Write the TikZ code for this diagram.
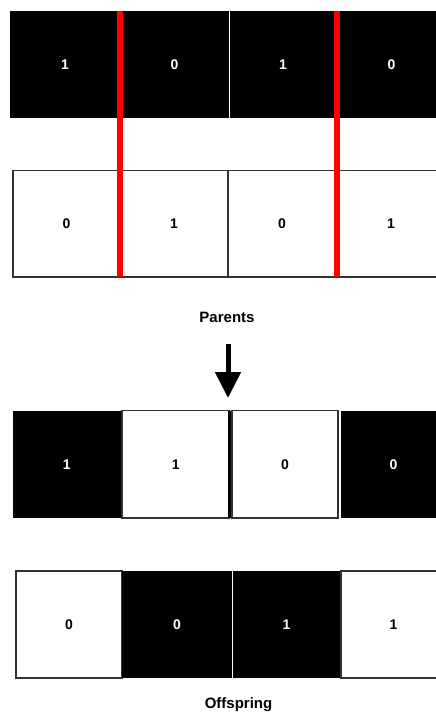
\documentclass[tikz,border=0pt]{standalone}
\usepackage{fontspec}
\setmainfont{Liberation Sans}
\usetikzlibrary{arrows.meta}
\begin{document}
\begin{tikzpicture}[x=1pt,y=-1pt,
  cell/.style={rectangle, anchor=north west, inner sep=0pt, outer sep=0pt,
    font=\bfseries\fontsize{14}{16}\selectfont},
  blk/.style={cell, fill=black, text=white},
  wht/.style={cell, fill=white, draw=black!80, line width=1.2pt, text=black},
  cut/.style={red, line width=5.5pt},
  caption/.style={font=\bfseries\fontsize{15}{17}\selectfont, inner sep=0pt},
  bigarrow/.style={line width=5pt, -{Triangle[width=25pt,length=26pt]}}]
\useasboundingbox (0,0) rectangle (436,715);
\clip (0,0) rectangle (436,715);
% Parent 1
\node[blk, minimum width=110pt, minimum height=107.3pt] (p1a) at (10,10.7) {1};
\node[blk, minimum width=109pt, minimum height=107.3pt] (p1b) at (120,10.7) {0};
\node[blk, minimum width=108pt, minimum height=107.3pt] (p1c) at (229,10.7) {1};
\node[blk, minimum width=109pt, minimum height=107.3pt] (p1d) at (337,10.7) {0};
\draw[white, line width=1pt] (p1b.north east) -- (p1b.south east);
% Parent 2
\node[wht, minimum width=107pt, minimum height=106.5pt] (p2a) at (13,170.5) {0};
\node[wht, minimum width=108pt, minimum height=106.5pt] (p2b) at (120,170.5) {1};
\node[wht, minimum width=108pt, minimum height=106.5pt] (p2c) at (228,170.5) {0};
\node[wht, minimum width=110pt, minimum height=106.5pt] (p2d) at (336,170.5) {1};
% crossover points
\draw[cut] (p1a.north east) -- (p1a.north east |- p2a.south east);
\draw[cut] (p1c.north east) -- (p1c.north east |- p2c.south east);
% caption + arrow
\node[caption] (parents) at (227,317) {Parents};
\coordinate (arrtop) at (228,344);
\coordinate (arrbot) at (228,398);
\draw[bigarrow] (arrtop) -- (arrbot);
% Offspring 1
\node[blk, minimum width=107.5pt, minimum height=107.3pt] (o1a) at (13,410.7) {1};
\node[wht, minimum width=107.5pt, minimum height=107.3pt] (o1b) at (122,410.7) {1};
\node[wht, minimum width=106pt, minimum height=107.3pt] (o1c) at (232,410.7) {0};
\node[blk, minimum width=105pt, minimum height=107.3pt] (o1d) at (341,410.7) {0};
\draw[black, line width=3pt] (o1b.north east) -- (o1b.south east);
% Offspring 2
\node[wht, minimum width=106pt, minimum height=107pt] (o2a) at (16,571) {0};
\node[blk, minimum width=110pt, minimum height=107pt] (o2b) at (122,571) {0};
\node[blk, minimum width=109pt, minimum height=107pt] (o2c) at (232,571) {1};
\node[wht, minimum width=105pt, minimum height=107pt] (o2d) at (341,571) {1};
\draw[white, line width=1pt] (o2b.north east) -- (o2b.south east);
\node[caption] (offspring) at (238.5,705) {Offspring};
\end{tikzpicture}
\end{document}
